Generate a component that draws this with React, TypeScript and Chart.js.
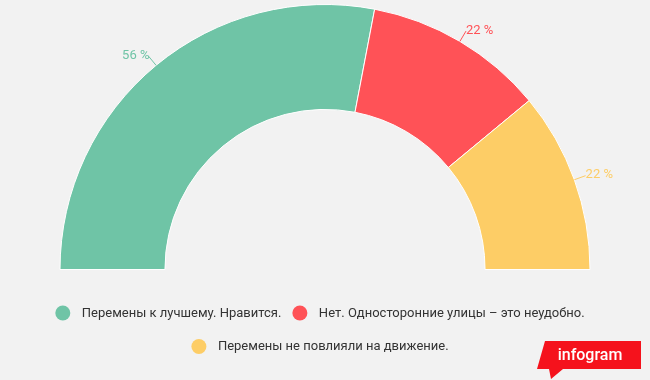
import React, { useEffect, useRef } from "react";
import { Chart, registerables } from "chart.js";

Chart.register(...registerables);

const categories = [
  "Перемены к лучшему. Нравится.",
  "Нет. Односторонние улицы – это неудобно.",
  "Перемены не повлияли на движение.",
];
const values = [56, 22, 22];
const valueLabels = ["56 %", "22 %", "22 %"];
const colors = ["#6fc4a6", "#ff5257", "#fdcd66"];
const legendRows = [[0, 1], [2]];

const BG = "#f2f2f2";

const overlayPlugin = {
  id: "overlay",
  beforeDraw(chart: any) {
    const { ctx, width, height } = chart;
    ctx.save();
    ctx.fillStyle = BG;
    ctx.fillRect(0, 0, width, height);
    ctx.restore();
  },
  afterDraw(chart: any) {
    const { ctx } = chart;
    const meta = chart.getDatasetMeta(0);
    ctx.save();
    // value labels with leader lines
    ctx.font = "13px Roboto";
    meta.data.forEach((arc: any, i: number) => {
      const p = arc.getProps(["x", "y", "startAngle", "endAngle", "outerRadius"], true);
      const mid = (p.startAngle + p.endAngle) / 2;
      const c = Math.cos(mid);
      const s = Math.sin(mid);
      const r0 = p.outerRadius;
      const r1 = p.outerRadius + 12;
      const x0 = p.x + c * r0, y0 = p.y + s * r0;
      const x1 = p.x + c * r1, y1 = p.y + s * r1;
      ctx.strokeStyle = colors[i];
      ctx.lineWidth = 1;
      ctx.beginPath();
      ctx.moveTo(x0, y0);
      ctx.lineTo(x1, y1);
      ctx.stroke();
      ctx.fillStyle = colors[i];
      ctx.textBaseline = "alphabetic";
      if (c >= 0) {
        ctx.textAlign = "left";
        ctx.fillText(valueLabels[i], x1, y1 + 2.5);
      } else {
        ctx.textAlign = "right";
        ctx.fillText(valueLabels[i], x1 + 1, y1 + 2.5);
      }
    });

    // legend
    ctx.font = "13px Roboto";
    ctx.textBaseline = "middle";
    ctx.textAlign = "left";
    const rowY = [313, 346.5];
    const centerX = 320;
    const rad = 7.5;
    const textOff = 19;
    const gap = 11;
    legendRows.forEach((row, ri) => {
      const widths = row.map((idx) => rad + textOff + ctx.measureText(categories[idx]).width);
      const total = widths.reduce((a, b) => a + b, 0) + gap * (row.length - 1);
      let x = centerX - total / 2;
      row.forEach((idx, k) => {
        const cx = x + rad;
        ctx.fillStyle = colors[idx];
        ctx.beginPath();
        ctx.arc(cx, rowY[ri], rad, 0, Math.PI * 2);
        ctx.fill();
        ctx.fillStyle = "#333333";
        ctx.fillText(categories[idx], cx + textOff, rowY[ri] + 0.5);
        x += widths[k] + gap;
      });
    });

    // infogram logo
    ctx.fillStyle = "#f5121c";
    ctx.beginPath();
    ctx.moveTo(545, 341);
    ctx.lineTo(641, 341);
    ctx.lineTo(641, 369);
    ctx.lineTo(563, 369);
    ctx.lineTo(551, 379);
    ctx.lineTo(549, 369);
    ctx.lineTo(537, 369);
    ctx.closePath();
    ctx.fill();
    ctx.fillStyle = "#ffffff";
    ctx.font = "500 16px Roboto";
    ctx.textAlign = "center";
    ctx.textBaseline = "alphabetic";
    ctx.fillText("infogram", 590, 360);
    ctx.restore();
  },
};

export default function App() {
  const ref = useRef<HTMLCanvasElement | null>(null);
  useEffect(() => {
    if (!ref.current) return;
    const chart = new Chart(ref.current, {
      type: "doughnut",
      data: {
        labels: categories,
        datasets: [
          {
            data: values,
            backgroundColor: colors,
            borderColor: "#ffffff",
            borderWidth: 1,
          },
        ],
      },
      options: {
        responsive: false,
        animation: false,
        rotation: -90,
        circumference: 180,
        cutout: "60.4%",
        layout: { padding: { top: 4, bottom: 110, left: 0, right: 0 } },
        plugins: {
          legend: { display: false },
          tooltip: { enabled: false },
        },
      },
      plugins: [overlayPlugin],
    });
    return () => chart.destroy();
  }, []);
  return (
    <div style={{ position: "fixed", left: 0, top: 0, width: 650, height: 380, background: BG }}>
      <canvas ref={ref} width={650} height={380} style={{ display: "block" }} />
    </div>
  );
}
